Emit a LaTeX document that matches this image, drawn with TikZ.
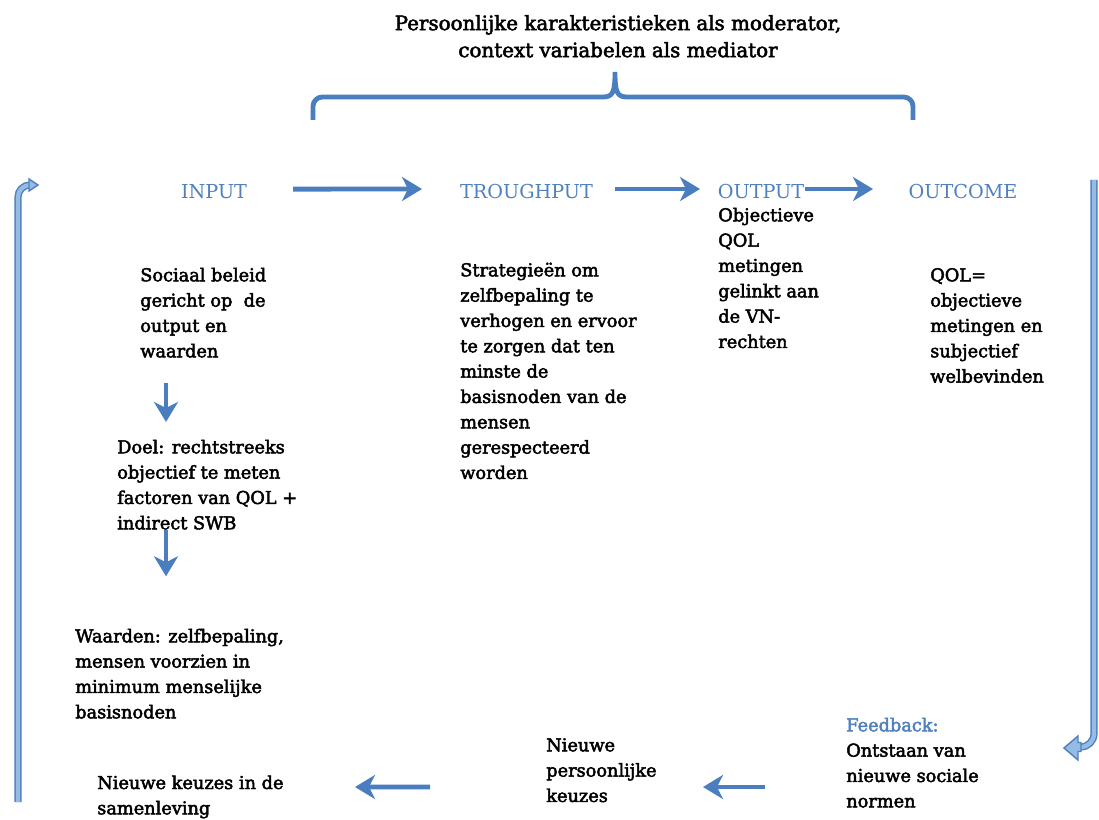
\documentclass[tikz,border=0pt]{standalone}
\usepackage{fontspec}
\setmainfont{DejaVu Serif}
\newfontfamily\semib{DejaVu Serif}[FakeBold=2.6]
\usetikzlibrary{arrows.meta,calc}
\definecolor{hblue}{RGB}{79,129,189}
\definecolor{ablue}{RGB}{74,126,190}
\definecolor{lblue}{RGB}{150,188,230}
\begin{document}
\begin{tikzpicture}[x=0.75pt,y=-0.75pt,
  body/.style={font=\semib\fontsize{13.3pt}{19pt}\selectfont, align=left, inner sep=0pt, anchor=north west, text=black},
  titlestyle/.style={font=\semib\fontsize{14.9pt}{20.25pt}\selectfont, align=center, inner sep=0pt, anchor=north, text=black},
  head/.style={font=\fontsize{14.4pt}{19pt}\selectfont, text=hblue, inner sep=0pt, anchor=base},
  flow/.style={draw=ablue, line width=3.6pt, -{Stealth[length=15pt,width=18pt,inset=4.5pt]}},
  bracestyle/.style={draw=ablue, line width=3.6pt},
  loopline/.style={draw=hblue, line width=1.1pt, double=lblue, double distance=3.2pt}
]
\useasboundingbox (0,0) rectangle (1099,820);

% title
\node[titlestyle] (title) at (618,11) {\strut Persoonlijke karakteristieken als moderator,\\context variabelen als mediator};

% brace
\draw[bracestyle] (313,120) [rounded corners=7pt] -- (313,97) [sharp corners] -- (603,97)
  .. controls (613,97) and (615,92) .. (615,72)
  .. controls (615,92) and (617,97) .. (627,97) [rounded corners=7pt] -- (913,97) -- (913,120);

% headers
\node[head] (input)  at (214,199) {INPUT};
\node[head] (trough) at (526.5,199) {TROUGHPUT};
\node[head] (output) at (761,199) {OUTPUT};
\node[head] (outcome) at (963,199) {OUTCOME};

\draw[flow] ($(input.center)+(79,-3)$) -- ($(trough.center)+(-104.5,-3)$);
\draw[flow] ($(trough.center)+(88.5,-3)$) -- ($(output.center)+(-61,-3)$);
\draw[flow] ($(output.center)+(44,-3)$) -- ($(outcome.center)+(-90,-3)$);

% body texts
\node[body] (soc) at (140,263.3) {\strut Sociaal beleid\\gericht op\ \ de\\output en\\waarden};
\node[body] (doel) at (117,435.3) {\strut Doel: rechtstreeks\\objectief te meten\\factoren van QOL +\\indirect SWB};
\node[body] (waard) at (75,624.3) {\strut Waarden: zelfbepaling,\\mensen voorzien in\\minimum menselijke\\basisnoden};
\node[body] (nk) at (97,771) {\strut Nieuwe keuzes in de\\samenleving};
\node[body] (strat) at (460,258.3) {\strut Strategieën om\\zelfbepaling te\\verhogen en ervoor\\te zorgen dat ten\\minste de\\basisnoden van de\\mensen\\gerespecteerd\\worden};
\node[body] (obj) at (718,203.3) {\strut Objectieve\\QOL\\metingen\\gelinkt aan\\de VN-\\rechten};
\node[body] (qol) at (930,263.3) {\strut QOL=\\objectieve\\metingen en\\subjectief\\welbevinden};
\node[body] (np) at (546,733.3) {\strut Nieuwe\\persoonlijke\\keuzes};
\node[body] (fb) at (846,713.3) {\strut{\color{hblue}Feedback:}\\Ontstaan van\\nieuwe sociale\\normen};

% vertical arrows
\draw[flow] ($(soc.north west)+(26,120)$) -- ($(doel.north west)+(49,-13.3)$);
\draw[flow] ($(doel.north west)+(49,95)$) -- ($(waard.north west)+(91,-48)$);

% bottom arrows
\draw[flow] ($(np.north west)+(-116,53.7)$) -- ($(nk.north west)+(258,16)$);
\draw[flow] ($(fb.north west)+(-81,73.7)$) -- ($(np.north west)+(157,53.7)$);

% left loop (feedback into input)
\coordinate (lstart) at (18,802);
\coordinate (lend) at (31,185);
\draw[loopline, rounded corners=9pt] (lstart) |- (lend);
\filldraw[fill=lblue, draw=hblue, line width=1.1pt] ($(lend)+(7,0)$) -- ($(lend)+(-2,-6)$) -- ($(lend)+(-2,6)$) -- cycle;

% right loop (outcome to feedback)
\coordinate (rstart) at (1094,180);
\coordinate (rend) at (1078,747);
\draw[loopline, rounded corners=10pt] (rstart) |- (rend);
\filldraw[fill=lblue, draw=hblue, line width=1.1pt] (1064,748) -- (1078,736) -- (1078,742.5) -- (1081,742.5) -- (1081,751.5) -- (1078,751.5) -- (1078,760) -- cycle;
\end{tikzpicture}
\end{document}
